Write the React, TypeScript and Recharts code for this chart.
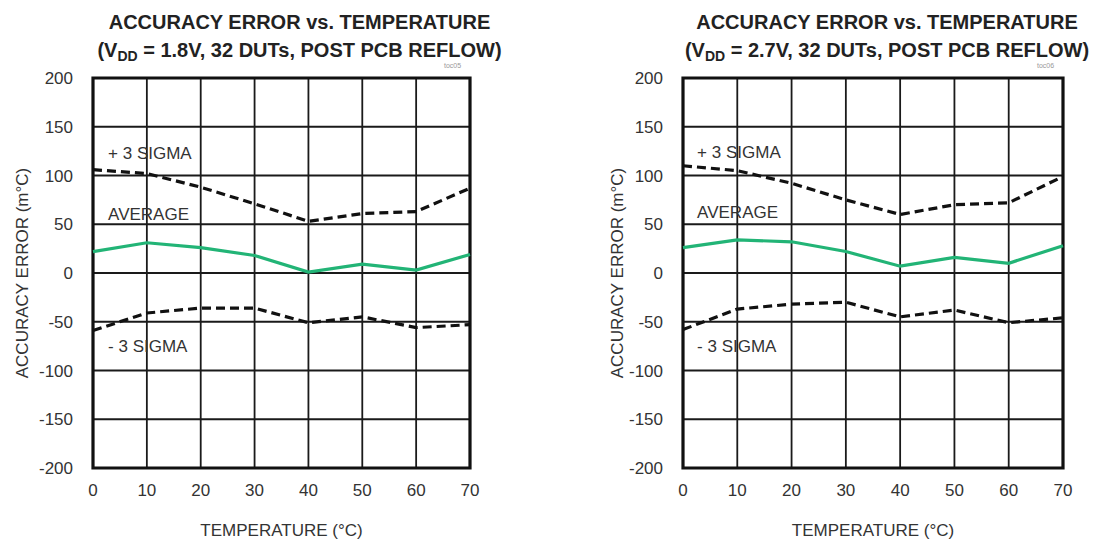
import React from 'react';
import { LineChart, Line, XAxis, YAxis, CartesianGrid, ReferenceArea, ReferenceDot } from 'recharts';

const temps = [0, 10, 20, 30, 40, 50, 60, 70];
const yTicks = [-200, -150, -100, -50, 0, 50, 100, 150, 200];

// VDD = 1.8V
const plus3Sigma18 = [106, 102, 88, 71, 53, 61, 63, 87];
const average18 = [22, 31, 26, 18, 1, 9, 3, 19];
const minus3Sigma18 = [-59, -41, -36, -36, -51, -45, -56, -53];

// VDD = 2.7V
const plus3Sigma27 = [110, 105, 92, 75, 60, 70, 72, 99];
const average27 = [26, 34, 32, 22, 7, 16, 10, 28];
const minus3Sigma27 = [-58, -37, -32, -30, -45, -38, -51, -46];

const noteText = ['+ 3 SIGMA', 'AVERAGE', '- 3 SIGMA'];
const noteX18 = [2.8, 2.8, 2.8];
const noteY18 = [123, 61, -75];
const noteX27 = [2.6, 2.6, 2.6];
const noteY27 = [124, 63, -75];

const FONT = '"Liberation Sans", Arial, sans-serif';
const TEXT = '#333';

function buildRows(plus: number[], avg: number[], minus: number[]) {
    return temps.map((t, i) => ({ t, plus: plus[i], avg: avg[i], minus: minus[i] }));
}

interface PanelProps {
    left: number;
    marginLeft: number;
    marginRight: number;
    yLabelOffset: number;
    titleShift: number;
    vdd: string;
    tag: string;
    plus: number[];
    avg: number[];
    minus: number[];
    noteX: number[];
    noteY: number[];
}

function Panel({ left, marginLeft, marginRight, yLabelOffset, titleShift, vdd, tag, plus, avg, minus, noteX, noteY }: PanelProps) {
    const data = buildRows(plus, avg, minus);
    const width = 555;
    const plotLeft = marginLeft + 80;
    const plotRight = width - marginRight;
    const center = (plotLeft + plotRight) / 2 + titleShift;
    return (
        <div style={{ position: 'absolute', left, top: 0, width, height: 542 }}>
            <div style={{
                position: 'absolute', left: center - 260, width: 520, top: 8, textAlign: 'center',
                fontWeight: 'bold', fontSize: 20, lineHeight: '28px', color: '#222', fontFamily: FONT
            }}>
                <div>ACCURACY ERROR vs. TEMPERATURE</div>
                <div>(V<span style={{ fontSize: 14, verticalAlign: -4 }}>DD</span> = {vdd}, 32 DUTs, POST PCB REFLOW)</div>
            </div>
            <div style={{
                position: 'absolute', left: plotRight - 26, top: 62, fontSize: 7, color: '#999', fontFamily: FONT
            }}>{tag}</div>
            <LineChart
                width={width}
                height={542}
                data={data}
                margin={{ top: 78, right: marginRight, bottom: 0, left: marginLeft }}
                style={{ fontFamily: FONT }}
            >
                <CartesianGrid stroke="#1a1a1a" strokeWidth={1.8} />
                <XAxis
                    dataKey="t"
                    type="number"
                    domain={[0, 70]}
                    ticks={temps}
                    height={74}
                    axisLine={false}
                    tickLine={false}
                    tickSize={0}
                    tickMargin={16}
                    tick={{ fill: TEXT, fontSize: 17 }}
                    label={{ value: 'TEMPERATURE (°C)', position: 'insideBottom', offset: 6, fill: TEXT, fontSize: 17 }}
                />
                <YAxis
                    type="number"
                    domain={[-200, 200]}
                    ticks={yTicks}
                    width={80}
                    axisLine={false}
                    tickLine={false}
                    tickSize={0}
                    tickMargin={20}
                    tick={{ fill: TEXT, fontSize: 17 }}
                    label={{
                        value: 'ACCURACY ERROR (m°C)', angle: -90, position: 'insideLeft', offset: yLabelOffset,
                        fill: TEXT, fontSize: 17, style: { textAnchor: 'middle' }
                    }}
                />
                <ReferenceArea x1={0} x2={70} y1={-200} y2={200} fill="none" stroke="#111" strokeWidth={3.2} ifOverflow="visible" />
                {noteText.map((txt, i) => (
                    <ReferenceDot
                        key={txt}
                        x={noteX[i]}
                        y={noteY[i]}
                        r={0}
                        fill="none"
                        stroke="none"
                        label={{ value: txt, position: 'right', offset: 0, fill: TEXT, fontSize: 17 }}
                    />
                ))}
                <Line dataKey="plus" stroke="#111" strokeWidth={3.2} strokeDasharray="9 5" dot={false} isAnimationActive={false} />
                <Line dataKey="minus" stroke="#111" strokeWidth={3.2} strokeDasharray="9 5" dot={false} isAnimationActive={false} />
                <Line dataKey="avg" stroke="#22b476" strokeWidth={3.2} dot={false} isAnimationActive={false} />
            </LineChart>
        </div>
    );
}

export default function App() {
    return (
        <div style={{ position: 'absolute', left: 0, top: 0, width: 1110, height: 542, background: '#fff', overflow: 'hidden' }}>
            <Panel left={0} marginLeft={13} marginRight={85} yLabelOffset={9} titleShift={18} vdd="1.8V" tag="toc05"
                plus={plus3Sigma18} avg={average18} minus={minus3Sigma18} noteX={noteX18} noteY={noteY18} />
            <Panel left={555} marginLeft={48} marginRight={47} yLabelOffset={14} titleShift={14} vdd="2.7V" tag="toc06"
                plus={plus3Sigma27} avg={average27} minus={minus3Sigma27} noteX={noteX27} noteY={noteY27} />
        </div>
    );
}
